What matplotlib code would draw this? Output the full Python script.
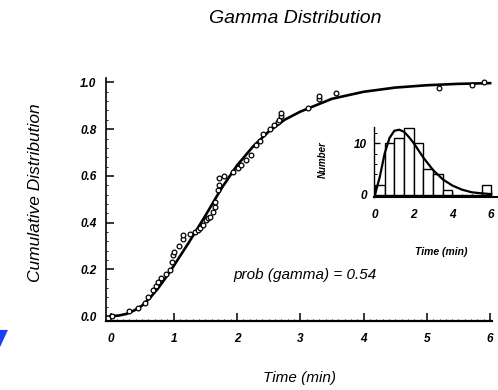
import matplotlib
matplotlib.use('Agg')
import matplotlib.pyplot as plt
import matplotlib.patches as patches
from matplotlib.ticker import MultipleLocator, FormatStrFormatter

CDF_T = [0.02, 0.30, 0.44, 0.54, 0.60, 0.67, 0.72, 0.75, 0.80, 0.88, 0.94,
         0.97, 0.99, 1.00, 1.08, 1.15, 1.15, 1.25, 1.33, 1.38, 1.41, 1.46,
         1.51, 1.54, 1.57, 1.62, 1.65, 1.65, 1.70, 1.72, 1.72, 1.80, 1.93,
         2.01, 2.07, 2.14, 2.22, 2.30, 2.36, 2.41, 2.52, 2.59, 2.64, 2.67,
         2.70, 2.70, 3.12, 3.30, 3.30, 3.56, 5.19, 5.71, 5.90]
CDF_P = [0.00, 0.020, 0.033, 0.054, 0.083, 0.110, 0.130, 0.147, 0.165, 0.180,
         0.197, 0.230, 0.260, 0.275, 0.300, 0.330, 0.345, 0.352, 0.360, 0.368,
         0.377, 0.390, 0.410, 0.418, 0.425, 0.447, 0.468, 0.490, 0.540, 0.560,
         0.590, 0.600, 0.618, 0.632, 0.647, 0.668, 0.690, 0.732, 0.750, 0.780,
         0.800, 0.818, 0.830, 0.840, 0.855, 0.868, 0.889, 0.930, 0.940, 0.954,
         0.975, 0.990, 1.000]

# fitted gamma cumulative curve
FIT_T = [0.0, 0.125, 0.25, 0.375, 0.5, 0.625, 0.75, 0.875, 1.0, 1.25, 1.5,
         1.75, 2.0, 2.25, 2.5, 2.75, 3.0, 3.5, 4.0, 4.5, 5.0, 5.5, 6.0]
FIT_P = [0.0, 0.002, 0.009, 0.024, 0.045, 0.078, 0.118, 0.165, 0.215, 0.320,
         0.430, 0.545, 0.645, 0.725, 0.790, 0.840, 0.875, 0.930, 0.960, 0.978,
         0.988, 0.994, 0.997]

# inset histogram (counts per 0.5 min bin) and fitted density
HIST_EDGES = [0.0, 0.5, 1.0, 1.5, 2.0, 2.5, 3.0, 3.5, 4.0, 4.5, 5.0, 5.5]
HIST_COUNTS = [2, 10, 11, 13, 10, 5, 4, 1, 0, 0, 0, 2]
PDF_T = [0.0, 0.25, 0.5, 0.75, 1.0, 1.25, 1.5, 1.75, 2.0, 2.5, 3.0, 3.5,
         4.0, 4.5, 5.0, 5.5, 6.0]
PDF_N = [0.0, 3.5, 8.0, 11.0, 12.4, 12.6, 12.2, 11.2, 10.0, 7.2, 4.8, 3.0,
         1.8, 1.0, 0.5, 0.3, 0.15]

FONT = 'Liberation Sans'

fig = plt.figure(figsize=(4.98, 3.90), dpi=100)

ax = fig.add_axes([0.213, 0.177, 0.775, 0.623])
ax.plot(FIT_T, FIT_P, color='black', lw=1.9, zorder=2)
ax.plot(CDF_T, CDF_P, 'o', ms=3.4, mfc='white', mec='black', mew=0.9, zorder=3)
ax.set_xlim(-0.07, 6.03)
ax.set_ylim(-0.021, 1.019)
for s in ['top', 'right']:
    ax.spines[s].set_visible(False)
ax.spines['left'].set_linewidth(1.2)
ax.spines['bottom'].set_linewidth(1.6)
ax.xaxis.set_major_locator(MultipleLocator(1))
ax.yaxis.set_major_locator(MultipleLocator(0.2))
ax.yaxis.set_major_formatter(FormatStrFormatter('%.1f'))
ax.xaxis.set_minor_locator(MultipleLocator(0.1))
ax.yaxis.set_minor_locator(MultipleLocator(0.04))
ax.tick_params(axis='x', which='major', direction='in', length=6, width=1.1, pad=9)
ax.tick_params(axis='y', which='major', direction='in', length=6, width=1.1, pad=7)
ax.tick_params(which='minor', direction='in', length=1.5, width=0.6)
for lab in ax.get_xticklabels() + ax.get_yticklabels():
    lab.set_fontfamily(FONT)
    lab.set_fontstyle('italic')
    lab.set_fontweight('bold')
    lab.set_fontsize(8.5)

fig.text(0.593, 0.953, 'Gamma Distribution', ha='center', va='center',
         fontsize=14, style='italic', family=FONT)
fig.text(0.072, 0.505, 'Cumulative Distribution', ha='center', va='center',
         rotation=90, fontsize=12.5, style='italic', family=FONT)
fig.text(0.602, 0.031, 'Time (min)', ha='center', va='center',
         fontsize=11, style='italic', family=FONT)
fig.text(0.468, 0.295, 'prob (gamma) = 0.54', ha='left', va='center',
         fontsize=11, style='italic', family=FONT)

# inset histogram
ins = fig.add_axes([0.751, 0.495, 0.247, 0.179])
ins.bar(HIST_EDGES, HIST_COUNTS, width=0.5, align='edge', color='white',
        edgecolor='black', lw=1.0, zorder=2)
ins.plot(PDF_T, PDF_N, color='black', lw=1.6, zorder=3)
ins.set_xlim(-0.05, 6.3)
ins.set_ylim(-0.4, 13.1)
for s in ['top', 'right']:
    ins.spines[s].set_visible(False)
ins.spines['left'].set_linewidth(1.0)
ins.spines['bottom'].set_linewidth(1.5)
ins.set_xticks([0, 2, 4, 6])
ins.set_yticks([0, 10])
ins.xaxis.set_minor_locator(MultipleLocator(0.5))
ins.yaxis.set_minor_locator(MultipleLocator(2))
ins.tick_params(axis='x', which='major', direction='in', length=4, width=1.0, pad=9)
ins.tick_params(axis='y', which='major', direction='in', length=4, width=1.0, pad=5)
ins.tick_params(which='minor', direction='in', length=2, width=0.7)
for lab in ins.get_xticklabels() + ins.get_yticklabels():
    lab.set_fontfamily(FONT)
    lab.set_fontstyle('italic')
    lab.set_fontweight('bold')
    lab.set_fontsize(8.5)
fig.text(0.886, 0.354, 'Time (min)', ha='center', va='center',
         fontsize=7.5, style='italic', weight='bold', family=FONT)
fig.text(0.649, 0.59, 'Number', ha='center', va='center', rotation=90,
         fontsize=7, style='italic', weight='bold', family=FONT)

# blue corner mark at the lower left
fig.patches.append(patches.Polygon(
    [(0.0, 0.154), (0.016, 0.154), (0.0, 0.110)], closed=True,
    transform=fig.transFigure, facecolor='#1f3dff', edgecolor='none'))

fig.savefig('out.png', dpi=100)
